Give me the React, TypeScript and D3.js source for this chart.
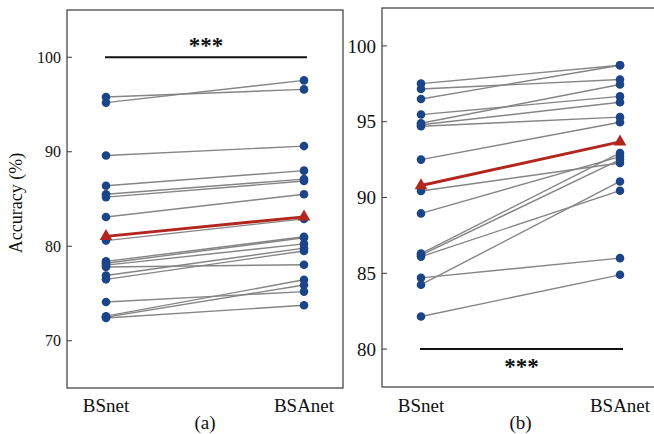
import React from 'react';
import * as d3 from 'd3';

// methods on the x axis
const methods = ['BSnet', 'BSAnet'];

// panel (a) accuracies per subject
const bsnetA = [95.2, 95.8, 89.6, 86.4, 85.5, 85.2, 83.1, 80.6, 78.4, 78.2, 78.0, 77.8, 76.9, 76.5, 74.1, 72.6, 72.5, 72.4];
const bsanetA = [97.55, 96.6, 90.6, 88.0, 87.1, 86.9, 85.5, 82.9, 81.0, 80.9, 80.25, 78.05, 79.8, 79.5, 75.2, 76.45, 75.9, 73.75];

// panel (b) accuracies per subject
const bsnetB = [97.51, 97.16, 96.5, 95.47, 94.9, 94.8, 94.7, 92.5, 90.43, 88.95, 86.3, 86.2, 86.1, 84.7, 84.25, 82.15];
const bsanetB = [98.72, 97.78, 98.72, 96.67, 97.45, 96.28, 95.3, 94.96, 92.28, 92.7, 92.94, 92.5, 90.45, 86.0, 91.06, 84.9];

const ticksA = [70, 80, 90, 100];
const ticksB = [80, 85, 90, 95, 100];

const FONT = '"Liberation Serif", "Times New Roman", serif';
const BLUE = '#1c4587';
const RED = '#b3261e';
const GRAY = '#858585';

type PanelProps = {
  left: number[];
  right: number[];
  domain: [number, number];
  ticks: number[];
  frame: { x0: number; x1: number; y0: number; y1: number };
  xRange: [number, number];
  tickSize: number;
  sigValue: number;
  sigAbove: boolean;
  caption: string;
};

const Panel = ({ left, right, domain, ticks, frame, xRange, tickSize, sigValue, sigAbove, caption }: PanelProps) => {
  const y = d3.scaleLinear().domain(domain).range([frame.y1, frame.y0]);
  const x = d3.scalePoint<string>().domain(methods).range(xRange);
  const line = d3.line<[string, number]>().x((d) => x(d[0]) as number).y((d) => y(d[1]));
  const tri = d3.symbol().type(d3.symbolTriangle).size(70)() as string;

  const means: [string, number][] = [
    [methods[0], d3.mean(left) as number],
    [methods[1], d3.mean(right) as number],
  ];
  const sigY = y(sigValue);
  const x0 = x(methods[0]) as number;
  const x1 = x(methods[1]) as number;

  return (
    <g>
      <rect x={frame.x0} y={frame.y0} width={frame.x1 - frame.x0} height={frame.y1 - frame.y0}
        fill="none" stroke="#3a3a3a" strokeWidth={1.2} />

      {ticks.map((t) => (
        <g key={t}>
          <line x1={frame.x0} x2={frame.x0 + 5} y1={y(t)} y2={y(t)} stroke="#3a3a3a" strokeWidth={1} />
          <text x={frame.x0 - 6} y={y(t)} dy="0.35em" textAnchor="end" fontSize={tickSize} fontFamily={FONT} fill="#111">{t}</text>
        </g>
      ))}

      {/* significance bar */}
      <line x1={x0 - 1} x2={x1 + 3} y1={sigY} y2={sigY} stroke="#111" strokeWidth={2} />
      <text x={(x0 + x1) / 2 + 1} y={sigAbove ? sigY - 4 : sigY + 25} textAnchor="middle" fontSize={23}
        fontWeight="bold" fontFamily={FONT} fill="#111">***</text>

      {left.map((v, i) => (
        <path key={'l' + i} d={line([[methods[0], v], [methods[1], right[i]]]) as string}
          stroke={GRAY} strokeWidth={1.4} fill="none" />
      ))}

      {left.map((v, i) => (
        <circle key={'a' + i} cx={x0} cy={y(v)} r={4.3} fill={BLUE} />
      ))}
      {right.map((v, i) => (
        <circle key={'b' + i} cx={x1} cy={y(v)} r={4.3} fill={BLUE} />
      ))}

      <path d={line(means) as string} stroke={RED} strokeWidth={3} fill="none" />
      {means.map((m) => (
        <path key={m[0]} d={tri} transform={`translate(${x(m[0])},${y(m[1])})`} fill={RED} />
      ))}

      {methods.map((m) => (
        <text key={m} x={x(m)} y={412} textAnchor="middle" fontSize={19} fontFamily={FONT} fill="#111">{m}</text>
      ))}
      <text x={(x0 + x1) / 2} y={429} textAnchor="middle" fontSize={19} fontFamily={FONT} fill="#111">{caption}</text>
    </g>
  );
};

export default function App() {
  return (
    <svg width={654} height={434} style={{ position: 'absolute', left: 0, top: 0, background: '#fff' }}>
      <Panel left={bsnetA} right={bsanetA} domain={[65, 105]} ticks={ticksA}
        frame={{ x0: 67, x1: 343, y0: 10, y1: 388 }} xRange={[106, 304]} tickSize={16}
        sigValue={100} sigAbove caption="(a)" />
      <text transform="translate(22,203) rotate(-90)" textAnchor="middle" fontSize={18} fontFamily={FONT} fill="#111">
        Accuracy (%)
      </text>
      <Panel left={bsnetB} right={bsanetB} domain={[77.5, 102.5]} ticks={ticksB}
        frame={{ x0: 382, x1: 660, y0: 8, y1: 387 }} xRange={[421, 620]} tickSize={19}
        sigValue={80} sigAbove={false} caption="(b)" />
    </svg>
  );
}
